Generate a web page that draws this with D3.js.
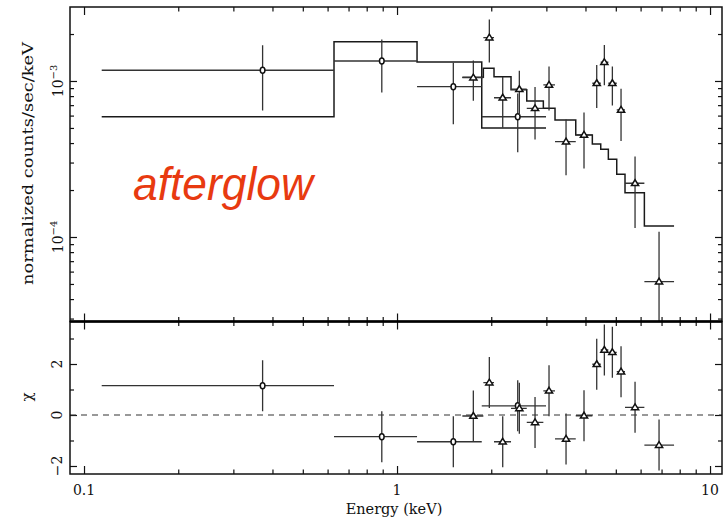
<!DOCTYPE html>
<html><head><meta charset="utf-8">
<script src="https://cdn.jsdelivr.net/npm/d3@7"></script>
<style>body{margin:0;background:#fff}</style>
</head><body>
<svg id="chart" width="727" height="520"></svg>
<script>
// ---- data ----
// dataset 1 (circles)
const set1Energy = [0.372, 0.894, 1.513, 2.430];
const set1Lo     = [0.1139, 0.629, 1.1586, 1.865];
const set1Hi     = [0.629, 1.1586, 1.865, 2.992];
const set1Flux   = [1.172e-3, 1.343e-3, 9.19e-4, 5.90e-4];
const set1Err    = [5.25e-4, 5.0e-4, 3.9e-4, 2.41e-4];
const set1Model  = [5.90e-4, 1.786e-3, 1.324e-3, 5.00e-4];
const set1Chi    = [1.15, -0.85, -1.05, 0.36];
// dataset 2 (triangles)
const set2Energy = [1.753, 1.972, 2.176, 2.459, 2.760, 3.059, 3.467, 3.957, 4.345, 4.596, 4.875, 5.196, 5.760, 6.872];
const set2Lo     = [1.617, 1.887, 2.041, 2.313, 2.597, 2.934, 3.197, 3.724, 4.207, 4.475, 4.733, 5.034, 5.350, 6.169];
const set2Hi     = [1.887, 2.041, 2.313, 2.597, 2.934, 3.197, 3.724, 4.207, 4.475, 4.733, 5.034, 5.350, 6.169, 7.674];
const set2Flux   = [1.050e-3, 1.895e-3, 7.81e-4, 8.85e-4, 6.68e-4, 9.43e-4, 4.08e-4, 4.51e-4, 9.67e-4, 1.318e-3, 9.67e-4, 6.52e-4, 2.21e-4, 5.17e-5];
const set2Err    = [3.03e-4, 5.8e-4, 2.8e-4, 2.8e-4, 2.46e-4, 2.97e-4, 1.59e-4, 1.76e-4, 2.97e-4, 3.8e-4, 2.7e-4, 2.4e-4, 1.07e-4, 5.64e-5];
const set2Model  = [1.056e-3, 1.206e-3, 1.066e-3, 8.8e-4, 7.44e-4, 6.68e-4, 5.62e-4, 4.51e-4, 3.95e-4, 3.65e-4, 3.15e-4, 2.52e-4, 1.92e-4, 1.176e-4];
const set2Chi    = [-0.04, 1.27, -1.05, 0.26, -0.29, 0.95, -0.94, -0.03, 1.99, 2.55, 2.46, 1.70, 0.30, -1.18];
// ticks
const xMajorTicks = [0.1, 1, 10];
const xTickLabels = ["0.1", "1", "10"];
const xMinorTicks = [0.2,0.3,0.4,0.5,0.6,0.7,0.8,0.9,2,3,4,5,6,7,8,9];
const yMajorTicks = [1e-4, 1e-3];
const yTickExponents = ["\u22124", "\u22123"];
const yMinorTicks = [3e-5,4e-5,5e-5,6e-5,7e-5,8e-5,9e-5,2e-4,3e-4,4e-4,5e-4,6e-4,7e-4,8e-4,9e-4,2e-3];
const chiMajorTicks = [-2, 0, 2];
const chiTickLabels = ["\u22122", "0", "2"];
const chiMinorTicks = [-1, 1, 3];
const xTitle = "Energy (keV)";
const yTitle = "normalized counts/sec/keV";
const chiTitle = "\u03c7";
const annotation = "afterglow";

// ---- layout ----
const L = 70, R = 722, T = 7, M = 321.5, B = 474;
const svg = d3.select("#chart");
const x = d3.scaleLog().domain([0.0902, 10.92]).range([L, R]);
const y = d3.scaleLog().domain([2.873e-5, 2.98e-3]).range([M, T]);
const yc = d3.scaleLinear().domain([-2.314, 3.667]).range([B, M]);

const serif = "DejaVu Serif";
const dataCol = "#333", modelCol = "#1a1a1a";

svg.append("defs").append("clipPath").attr("id","cTop")
  .append("rect").attr("x",L).attr("y",T).attr("width",R-L).attr("height",M-T);
svg.select("defs").append("clipPath").attr("id","cBot")
  .append("rect").attr("x",L).attr("y",M).attr("width",R-L).attr("height",B-M);

// ---- axes ticks ----
function ticks(axisGen, scale, vals, size, transform) {
  const g = svg.append("g").attr("transform", transform)
    .call(axisGen(scale).tickValues(vals).tickSize(size).tickFormat(""));
  g.select(".domain").remove();
  g.selectAll("line").attr("stroke", "#111").attr("stroke-width", 1.2);
  return g;
}
// top panel
ticks(d3.axisTop, x, xMajorTicks, -8, `translate(0,${T})`);
ticks(d3.axisTop, x, xMinorTicks, -4.5, `translate(0,${T})`);
ticks(d3.axisBottom, x, xMajorTicks, -8, `translate(0,${M})`);
ticks(d3.axisBottom, x, xMinorTicks, -4.5, `translate(0,${M})`);
ticks(d3.axisLeft, y, yMajorTicks, -7, `translate(${L},0)`);
ticks(d3.axisLeft, y, yMinorTicks, -4, `translate(${L},0)`);
ticks(d3.axisRight, y, yMajorTicks, -7, `translate(${R},0)`);
ticks(d3.axisRight, y, yMinorTicks, -4, `translate(${R},0)`);
// bottom panel
ticks(d3.axisTop, x, xMajorTicks, -8, `translate(0,${M})`);
ticks(d3.axisTop, x, xMinorTicks, -4.5, `translate(0,${M})`);
ticks(d3.axisBottom, x, xMajorTicks, -8, `translate(0,${B})`);
ticks(d3.axisBottom, x, xMinorTicks, -4.5, `translate(0,${B})`);
ticks(d3.axisLeft, yc, chiMajorTicks, -7, `translate(${L},0)`);
ticks(d3.axisLeft, yc, chiMinorTicks, -4, `translate(${L},0)`);
ticks(d3.axisRight, yc, chiMajorTicks, -7, `translate(${R},0)`);
ticks(d3.axisRight, yc, chiMinorTicks, -4, `translate(${R},0)`);

// zero line
svg.append("line").attr("x1",L).attr("x2",R).attr("y1",yc(0)).attr("y2",yc(0))
  .attr("stroke","#333").attr("stroke-width",1.1).attr("stroke-dasharray","6,5");

// ---- models (step lines) ----
function stepPts(lo, hi, mod) {
  const pts = [];
  lo.forEach((l,i)=>{ pts.push([l, mod[i]]); pts.push([hi[i], mod[i]]); });
  return pts;
}
const stepLine = d3.line().x(d=>x(d[0])).y(d=>y(d[1]));
const gTop = svg.append("g").attr("clip-path","url(#cTop)");
[[set1Lo,set1Hi,set1Model],[set2Lo,set2Hi,set2Model]].forEach(([lo,hi,mo])=>{
  gTop.append("path").attr("d", stepLine(stepPts(lo,hi,mo)))
    .attr("fill","none").attr("stroke",modelCol).attr("stroke-width",1.5);
});

// ---- data ----
const set1 = set1Energy.map((e,i)=>({e, lo:set1Lo[i], hi:set1Hi[i], f:set1Flux[i], s:set1Err[i], c:set1Chi[i], k:"circle"}));
const set2 = set2Energy.map((e,i)=>({e, lo:set2Lo[i], hi:set2Hi[i], f:set2Flux[i], s:set2Err[i], c:set2Chi[i], k:"tri"}));
const all = set1.concat(set2);
const gBot = svg.append("g").attr("clip-path","url(#cBot)");

function marker(g, d, px, py) {
  if (d.k === "circle") {
    g.append("ellipse").attr("cx",px).attr("cy",py).attr("rx",2.3).attr("ry",3)
      .attr("fill","#fff").attr("stroke","#111").attr("stroke-width",1.5);
  } else {
    g.append("path").attr("d",`M${px},${py-3.5}L${px+3.6},${py+2.3}L${px-3.6},${py+2.3}Z`)
      .attr("fill","#fff").attr("stroke","#111").attr("stroke-width",1.5);
  }
}
all.forEach(d=>{
  // top panel
  const lowV = Math.max(d.f - d.s, 1e-6);
  gTop.append("line").attr("x1",x(d.lo)).attr("x2",x(d.hi)).attr("y1",y(d.f)).attr("y2",y(d.f))
    .attr("stroke",dataCol).attr("stroke-width",1.3);
  gTop.append("line").attr("x1",x(d.e)).attr("x2",x(d.e)).attr("y1",y(d.f+d.s)).attr("y2",y(lowV))
    .attr("stroke",dataCol).attr("stroke-width",1.3);
  marker(gTop, d, x(d.e), y(d.f));
  // residual panel
  gBot.append("line").attr("x1",x(d.lo)).attr("x2",x(d.hi)).attr("y1",yc(d.c)).attr("y2",yc(d.c))
    .attr("stroke",dataCol).attr("stroke-width",1.3);
  gBot.append("line").attr("x1",x(d.e)).attr("x2",x(d.e)).attr("y1",yc(d.c+1)).attr("y2",yc(d.c-1))
    .attr("stroke",dataCol).attr("stroke-width",1.3);
  marker(gBot, d, x(d.e), yc(d.c));
});

// ---- frames ----
svg.append("rect").attr("x",L).attr("y",T).attr("width",R-L).attr("height",M-T)
  .attr("fill","none").attr("stroke","#111").attr("stroke-width",1.5);
svg.append("rect").attr("x",L).attr("y",M).attr("width",R-L).attr("height",B-M)
  .attr("fill","none").attr("stroke","#111").attr("stroke-width",1.5);
svg.append("line").attr("x1",L).attr("x2",R).attr("y1",M).attr("y2",M)
  .attr("stroke","#000").attr("stroke-width",2.5);

// ---- labels ----
xMajorTicks.forEach((v,i)=>{
  svg.append("text").attr("x",x(v)).attr("y",495).attr("text-anchor","middle")
    .attr("font-family",serif).attr("font-size",14).attr("fill","#111").text(xTickLabels[i]);
});
svg.append("text").attr("x",394).attr("y",514).attr("text-anchor","middle")
  .attr("font-family",serif).attr("font-size",14.5).attr("fill","#111").text(xTitle);

yMajorTicks.forEach((v,i)=>{
  const t = svg.append("text").attr("transform",`translate(63,${y(v)}) rotate(-90)`)
    .attr("text-anchor","middle").attr("font-family",serif).attr("font-size",14).attr("fill","#111");
  t.append("tspan").text("10");
  t.append("tspan").attr("dy",-6).attr("font-size",10).text(yTickExponents[i]);
});
chiMajorTicks.forEach((v,i)=>{
  svg.append("text").attr("transform",`translate(62,${yc(v)}) rotate(-90)`)
    .attr("text-anchor","middle").attr("font-family",serif).attr("font-size",14).attr("fill","#111")
    .text(chiTickLabels[i]);
});
svg.append("text").attr("transform",`translate(33,163.5) rotate(-90)`)
  .attr("text-anchor","middle").attr("font-family",serif).attr("font-size",15).attr("fill","#111")
  .attr("textLength",243).attr("lengthAdjust","spacingAndGlyphs").text(yTitle);
svg.append("text").attr("transform",`translate(32,397) rotate(-90)`)
  .attr("text-anchor","middle").attr("font-family",serif).attr("font-size",15).attr("fill","#111")
  .text(chiTitle);

svg.append("text").attr("x",133).attr("y",200)
  .attr("font-family","Liberation Sans, Arial, sans-serif").attr("font-style","italic")
  .attr("font-size",47).attr("fill","#e83a10")
  .attr("textLength",180).attr("lengthAdjust","spacingAndGlyphs").text(annotation);
</script>
</body></html>
